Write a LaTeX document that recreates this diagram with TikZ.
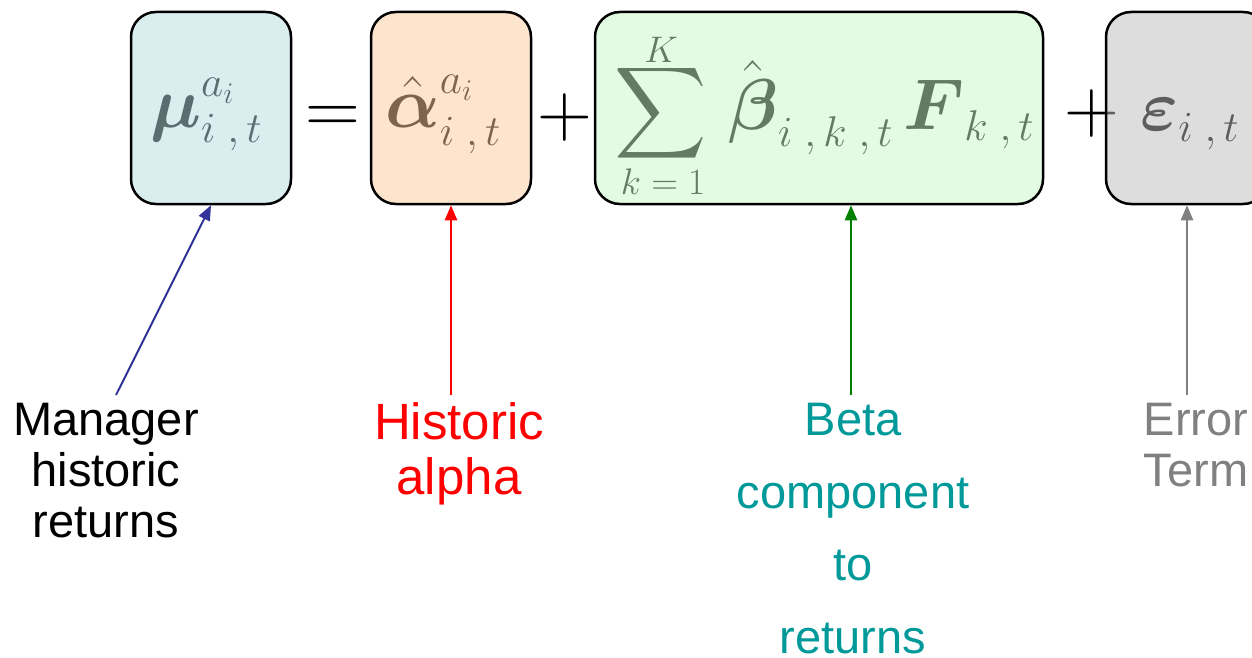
\RequirePackage{fix-cm}
\documentclass[tikz,border=0pt]{standalone}
\usepackage{amsmath}
\usepackage{exscale}
\usepackage[no-math]{fontspec}
\newfontfamily\arial{Liberation Sans}
\usetikzlibrary{arrows.meta}
\DeclareFontShape{OMX}{cmex}{m}{n}{<->cmex10}{}
\DeclareMathSizes{72}{72}{43}{30}
\DeclareMathSizes{64}{64}{41}{30}
\definecolor{cblue}{RGB}{181,221,225}
\definecolor{corange}{RGB}{251,201,153}
\definecolor{cgreen}{RGB}{197,247,197}
\definecolor{cgrey}{RGB}{187,187,187}
\definecolor{ablue}{RGB}{51,51,153}
\definecolor{agreen}{RGB}{0,128,0}
\definecolor{tteal}{RGB}{0,153,153}
\definecolor{tgrey}{RGB}{128,128,128}
\begin{document}
\begin{tikzpicture}[x=1pt,y=-1pt,
  box/.style={draw=black, line width=2.5pt, rounded corners=25pt, fill opacity=0.5, draw opacity=1, inner sep=0pt, minimum height=192pt},
  mathnode/.style={font=\fontsize{72}{86}\selectfont, inner sep=0pt},
  sumnode/.style={font=\fontsize{64}{76}\selectfont, inner sep=0pt},
  opnode/.style={font=\fontsize{76}{90}\selectfont, inner sep=0pt, anchor=base},
  limnode/.style={font=\fontsize{37}{44}\selectfont, inner sep=0pt},
  lab/.style={font=\arial\fontsize{47}{51}\selectfont, align=center, inner sep=0pt, anchor=north},
  arr/.style={line width=2.5pt, -{Triangle[length=15pt,width=12pt]}}]
\useasboundingbox (0,0) rectangle (1252,658);
% formula (drawn under the translucent boxes)
\node[mathnode, anchor=base west] (mu) at (150,128) {$\boldsymbol{\mu}^{a_i}_{i\;,\,t}$};
\node[opnode] (eq) at (333,134) {$=$};
\node[mathnode, anchor=base west] (al) at (385,128) {$\hat{\boldsymbol{\alpha}}^{a_i}_{i\;,\,t}$};
\node[opnode] (p1) at (565,136) {$+$};
\node[sumnode, anchor=center] (sum) at (661,113) {$\displaystyle\sum$};
\node[limnode, anchor=center] (lk) at (661,50) {$K$};
\node[limnode, anchor=center] (ll) at (663,182) {$k=1$};
\node[mathnode, anchor=base west] (be) at (728,130) {$\hat{\boldsymbol{\beta}}_{i\;,\,k\;,\,t}$};
\node[mathnode, anchor=base west] (ff) at (903,130) {$\boldsymbol{F}_{k\;,\,t}$};
\node[opnode] (p2) at (1092,132) {$+$};
\node[mathnode, anchor=base west] (ep) at (1140,131) {$\boldsymbol{\varepsilon}_{i\;,\,t}$};
% boxes
\node[box, fill=cblue, minimum width=160pt] (b1) at (211,108) {};
\node[box, fill=corange, minimum width=160pt] (b2) at (451,108) {};
\node[box, fill=cgreen, minimum width=448pt] (b3) at (819,108) {};
\node[box, fill=cgrey, minimum width=162pt] (b4) at (1187,108) {};
% labels
\node[lab] (l1) at (106,403) {Manager\\historic\\returns};
\node[lab, text=red, font=\arial\fontsize{51}{55}\selectfont] (l2) at (459,402) {Historic\\alpha};
\node[lab, text=tteal, font=\arial\fontsize{47}{72.5}\selectfont] (l3) at (853,403) {Beta\\component\\to\\returns};
\node[lab, text=tgrey] (l4) at (1196,403) {Error\\Term};
% arrows
\coordinate (t1) at (116,395);
\coordinate (t2) at (451,395);
\coordinate (t3) at (851,395);
\coordinate (t4) at (1187,395);
\draw[arr, ablue, line width=2pt] (t1) -- (b1.south);
\draw[arr, red] (t2) -- (b2.south);
\draw[arr, agreen] (t3) -- ([xshift=32pt]b3.south);
\draw[arr, tgrey] (t4) -- (b4.south);
\end{tikzpicture}
\end{document}
